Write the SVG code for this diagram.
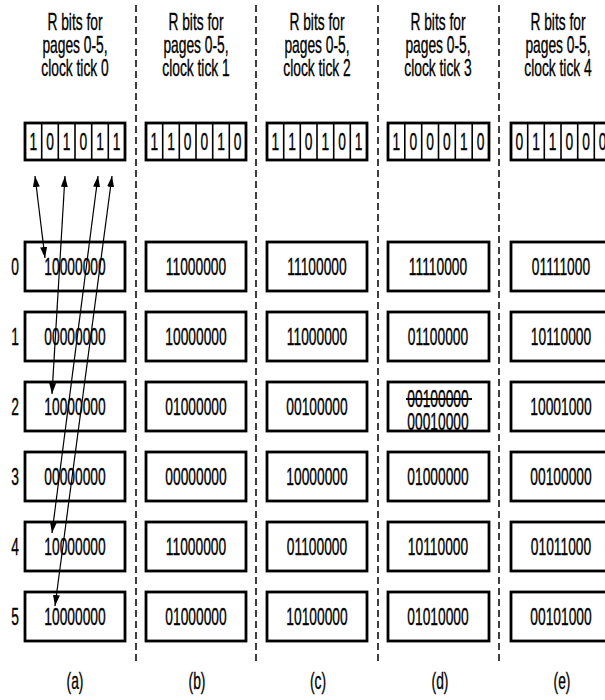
<svg xmlns="http://www.w3.org/2000/svg" width="605" height="700" viewBox="0 0 605 700">
<style>
.t{font-family:"Liberation Sans",Arial,sans-serif;font-size:23px;text-anchor:middle;fill:#000;stroke:#000;stroke-width:0.35;transform-box:fill-box;transform-origin:center;transform:scaleX(0.6)}
.box{fill:#fff;stroke:#000;stroke-width:2.8}
.cell{stroke:#000;stroke-width:1.6}
.dash{stroke:#000;stroke-width:1.5;stroke-dasharray:7 4;fill:none}
.arr{stroke:#000;stroke-width:1.2;fill:none;marker-start:url(#ah);marker-end:url(#ah)}
</style>
<defs>
<marker id="ah" viewBox="0 0 10 10" refX="10" refY="5" markerWidth="11" markerHeight="7" markerUnits="userSpaceOnUse" orient="auto-start-reverse" preserveAspectRatio="none">
<path d="M0,0 L10,5 L0,10 z" fill="#000"/>
</marker>
</defs>
<rect width="605" height="700" fill="#fff"/>

<g id="separators">
<line class="dash" x1="136" y1="5" x2="136" y2="665"/>
<line class="dash" x1="256" y1="5" x2="256" y2="665"/>
<line class="dash" x1="378" y1="5" x2="378" y2="665"/>
<line class="dash" x1="499" y1="5" x2="499" y2="665"/>
</g>

<g id="row-labels">
<text class="t" x="15" y="275">0</text>
<text class="t" x="15" y="345">1</text>
<text class="t" x="15" y="415">2</text>
<text class="t" x="15" y="485">3</text>
<text class="t" x="15" y="555">4</text>
<text class="t" x="15" y="625">5</text>
</g>

<!-- column a -->
<g id="col-a">
<text class="t" x="75" y="30">R bits for</text>
<text class="t" x="75" y="53">pages 0-5,</text>
<text class="t" x="75" y="76">clock tick 0</text>
<g id="bits-a">
<rect class="box" x="25" y="123" width="100" height="37"/>
<path class="cell" d="M41.7,123V160M58.3,123V160M75,123V160M91.7,123V160M108.3,123V160"/>
<text class="t" x="33.3" y="150">1</text><text class="t" x="50" y="150">0</text><text class="t" x="66.7" y="150">1</text><text class="t" x="83.3" y="150">0</text><text class="t" x="100" y="150">1</text><text class="t" x="116.7" y="150">1</text>
</g>
<g id="a0"><rect class="box" x="25" y="242" width="100" height="49"/><text class="t" x="75" y="275">10000000</text></g>
<g id="a1"><rect class="box" x="25" y="312" width="100" height="49"/><text class="t" x="75" y="345">00000000</text></g>
<g id="a2"><rect class="box" x="25" y="382" width="100" height="49"/><text class="t" x="75" y="415">10000000</text></g>
<g id="a3"><rect class="box" x="25" y="452" width="100" height="49"/><text class="t" x="75" y="485">00000000</text></g>
<g id="a4"><rect class="box" x="25" y="522" width="100" height="49"/><text class="t" x="75" y="555">10000000</text></g>
<g id="a5"><rect class="box" x="25" y="592" width="100" height="49"/><text class="t" x="75" y="625">10000000</text></g>
<text class="t" x="75" y="689">(a)</text>
</g>

<!-- column b -->
<g id="col-b">
<text class="t" x="196" y="30">R bits for</text>
<text class="t" x="196" y="53">pages 0-5,</text>
<text class="t" x="196" y="76">clock tick 1</text>
<g id="bits-b">
<rect class="box" x="146" y="123" width="100" height="37"/>
<path class="cell" d="M162.7,123V160M179.3,123V160M196,123V160M212.7,123V160M229.3,123V160"/>
<text class="t" x="154.3" y="150">1</text><text class="t" x="171" y="150">1</text><text class="t" x="187.7" y="150">0</text><text class="t" x="204.3" y="150">0</text><text class="t" x="221" y="150">1</text><text class="t" x="237.7" y="150">0</text>
</g>
<g id="b0"><rect class="box" x="146" y="242" width="100" height="49"/><text class="t" x="196" y="275">11000000</text></g>
<g id="b1"><rect class="box" x="146" y="312" width="100" height="49"/><text class="t" x="196" y="345">10000000</text></g>
<g id="b2"><rect class="box" x="146" y="382" width="100" height="49"/><text class="t" x="196" y="415">01000000</text></g>
<g id="b3"><rect class="box" x="146" y="452" width="100" height="49"/><text class="t" x="196" y="485">00000000</text></g>
<g id="b4"><rect class="box" x="146" y="522" width="100" height="49"/><text class="t" x="196" y="555">11000000</text></g>
<g id="b5"><rect class="box" x="146" y="592" width="100" height="49"/><text class="t" x="196" y="625">01000000</text></g>
<text class="t" x="197" y="689">(b)</text>
</g>

<!-- column c -->
<g id="col-c">
<text class="t" x="317" y="30">R bits for</text>
<text class="t" x="317" y="53">pages 0-5,</text>
<text class="t" x="317" y="76">clock tick 2</text>
<g id="bits-c">
<rect class="box" x="267" y="123" width="100" height="37"/>
<path class="cell" d="M283.7,123V160M300.3,123V160M317,123V160M333.7,123V160M350.3,123V160"/>
<text class="t" x="275.3" y="150">1</text><text class="t" x="292" y="150">1</text><text class="t" x="308.7" y="150">0</text><text class="t" x="325.3" y="150">1</text><text class="t" x="342" y="150">0</text><text class="t" x="358.7" y="150">1</text>
</g>
<g id="c0"><rect class="box" x="267" y="242" width="100" height="49"/><text class="t" x="317" y="275">11100000</text></g>
<g id="c1"><rect class="box" x="267" y="312" width="100" height="49"/><text class="t" x="317" y="345">11000000</text></g>
<g id="c2"><rect class="box" x="267" y="382" width="100" height="49"/><text class="t" x="317" y="415">00100000</text></g>
<g id="c3"><rect class="box" x="267" y="452" width="100" height="49"/><text class="t" x="317" y="485">10000000</text></g>
<g id="c4"><rect class="box" x="267" y="522" width="100" height="49"/><text class="t" x="317" y="555">01100000</text></g>
<g id="c5"><rect class="box" x="267" y="592" width="100" height="49"/><text class="t" x="317" y="625">10100000</text></g>
<text class="t" x="318" y="689">(c)</text>
</g>

<!-- column d -->
<g id="col-d">
<text class="t" x="438" y="30">R bits for</text>
<text class="t" x="438" y="53">pages 0-5,</text>
<text class="t" x="438" y="76">clock tick 3</text>
<g id="bits-d">
<rect class="box" x="388" y="123" width="101" height="37"/>
<path class="cell" d="M404.8,123V160M421.7,123V160M438.5,123V160M455.3,123V160M472.2,123V160"/>
<text class="t" x="396.4" y="150">1</text><text class="t" x="413.3" y="150">0</text><text class="t" x="430.1" y="150">0</text><text class="t" x="446.9" y="150">0</text><text class="t" x="463.8" y="150">1</text><text class="t" x="480.6" y="150">0</text>
</g>
<g id="d0"><rect class="box" x="388" y="242" width="101" height="49"/><text class="t" x="438" y="275">11110000</text></g>
<g id="d1"><rect class="box" x="388" y="312" width="101" height="49"/><text class="t" x="438" y="345">01100000</text></g>
<g id="d2"><rect class="box" x="388" y="382" width="101" height="49"/><text class="t" x="438" y="407">00100000</text><line x1="406" y1="399" x2="472" y2="399" stroke="#000" stroke-width="2"/><text class="t" x="438" y="430">00010000</text></g>
<g id="d3"><rect class="box" x="388" y="452" width="101" height="49"/><text class="t" x="438" y="485">01000000</text></g>
<g id="d4"><rect class="box" x="388" y="522" width="101" height="49"/><text class="t" x="438" y="555">10110000</text></g>
<g id="d5"><rect class="box" x="388" y="592" width="101" height="49"/><text class="t" x="438" y="625">01010000</text></g>
<text class="t" x="440" y="689">(d)</text>
</g>

<!-- column e -->
<g id="col-e">
<text class="t" x="558" y="30">R bits for</text>
<text class="t" x="558" y="53">pages 0-5,</text>
<text class="t" x="558" y="76">clock tick 4</text>
<g id="bits-e">
<rect class="box" x="511" y="123" width="100" height="37"/>
<path class="cell" d="M527.7,123V160M544.3,123V160M561,123V160M577.7,123V160M594.3,123V160"/>
<text class="t" x="519.3" y="150">0</text><text class="t" x="536" y="150">1</text><text class="t" x="552.7" y="150">1</text><text class="t" x="569.3" y="150">0</text><text class="t" x="586" y="150">0</text><text class="t" x="602.7" y="150">0</text>
</g>
<g id="e0"><rect class="box" x="511" y="242" width="100" height="49"/><text class="t" x="561" y="275">01111000</text></g>
<g id="e1"><rect class="box" x="511" y="312" width="100" height="49"/><text class="t" x="561" y="345">10110000</text></g>
<g id="e2"><rect class="box" x="511" y="382" width="100" height="49"/><text class="t" x="561" y="415">10001000</text></g>
<g id="e3"><rect class="box" x="511" y="452" width="100" height="49"/><text class="t" x="561" y="485">00100000</text></g>
<g id="e4"><rect class="box" x="511" y="522" width="100" height="49"/><text class="t" x="561" y="555">01011000</text></g>
<g id="e5"><rect class="box" x="511" y="592" width="100" height="49"/><text class="t" x="561" y="625">00101000</text></g>
<text class="t" x="562" y="689">(e)</text>
</g>

<g id="connectors">
<line class="arr" x1="35" y1="176" x2="45" y2="258"/>
<line class="arr" x1="65" y1="176" x2="52" y2="394"/>
<line class="arr" x1="98" y1="176" x2="52" y2="533"/>
<line class="arr" x1="112" y1="176" x2="55" y2="606"/>
</g>
</svg>
